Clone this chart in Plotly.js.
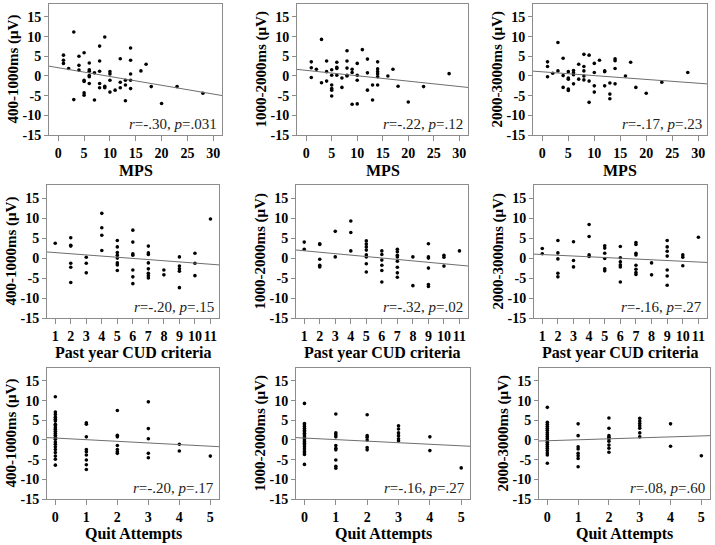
<!DOCTYPE html>
<html><head><meta charset="utf-8">
<script src="https://cdn.plot.ly/plotly-3.0.1.min.js"></script>
<style>html,body{margin:0;padding:0;background:#fff}</style>
</head><body><div id="chart" style="width:715px;height:545px"></div>
<script>
// ---------- data ----------
const xTitles = ["MPS", "Past year CUD criteria", "Quit Attempts"];
const yTitles = ["400-1000ms (\u03bcV)", "1000-2000ms (\u03bcV)", "2000-3000ms (\u03bcV)"];
const yTickVals = [-15, -10, -5, 0, 5, 10, 15];
const yTickText = ["-15", "-10", "-5", "0", "5", "10", "15"];
const mpsTicks = [0, 5, 10, 15, 20, 25, 30];
const cudTicks = [1, 2, 3, 4, 5, 6, 7, 8, 9, 10, 11];
const quitTicks = [0, 1, 2, 3, 4, 5];

// Row 1: MPS
const mps_400_x = [1,1,1,2,3,3,4,4,4,5,5,5,5,5,6,6,6,6,6,6,7,7,8,8,8,8,8,9,9,9,10,10,10,10,11,12,12,12,13,13,13,14,14,14,14,14,16,17,18,20,23,28];
const mps_400_y = [5.3,4.0,3.2,1.9,11.2,-6.0,5.0,2.7,1.5,5.9,-1.1,-1.4,-4.3,-4.9,3.3,1.6,1.2,0.1,-0.2,-1.9,0.8,-6.1,7.6,3.8,1.2,-1.9,-3.0,9.9,-2.6,-3.0,1.1,0.5,-1.1,-4.1,-3.6,4.4,-1.6,-3.0,-1.1,-2.3,-6.3,7.1,4.0,0.5,-1.1,-3.2,1.3,3.0,-2.7,-7.0,-2.7,-4.4];
const mps_1000_x = [1,1,1,2,3,3,4,4,4,5,5,5,5,5,5,6,6,6,6,7,7,8,8,8,8,8,9,9,9,10,10,10,10,11,12,12,12,13,13,14,14,14,14,14,14,16,17,18,20,23,28];
const mps_1000_y = [3.6,2.1,-0.4,1.7,9.3,-1.7,3.8,1.1,-1.3,1.6,0.2,-2.3,-3.2,-3.6,-5.1,3.5,2.2,1.9,0.2,-0.5,-2.9,6.4,3.8,2.0,0.2,0,1.7,0.9,-7.2,3.2,0.2,-1.1,-7.1,6.7,4.3,0.8,-3.6,-2.3,-6.1,3.6,1.8,1.1,0.5,-0.2,-2.3,0,1.7,-2.6,-6.6,-2.7,0.6];
const mps_2000_x = [1,1,1,2,3,3,4,4,4,5,5,5,5,5,6,6,6,6,7,7,8,8,8,8,8,9,9,9,10,10,10,10,11,12,12,12,13,13,13,14,14,14,14,16,17,18,20,23,28];
const mps_2000_y = [3.6,2.4,-0.2,0.7,8.5,1.3,4.5,0.1,-2.9,1.1,-0.5,-0.8,-3.3,-3.7,1.4,0.8,0.3,-2.0,3.0,-0.8,5.5,2.4,1.3,0,-1.0,5.3,-1.3,-6.7,3.2,0.9,-2.5,-4.1,4.0,1.3,1.1,-2.5,-1.8,-4.6,-5.8,4.4,3.9,1.9,-2.0,0,3.5,-2.9,-4.4,-1.6,0.9];

// Row 2: Past year CUD criteria
const cud_400_x = [1,2,2,2,2,2,2,3,3,3,4,4,4,4,5,5,5,5,5,5,5,5,6,6,6,6,6,6,6,7,7,7,7,7,7,7,7,8,8,9,9,9,9,9,10,10,10,11];
const cud_400_y = [3.7,5.1,3.2,3.0,-1.3,-2.3,-6.1,0.2,-1.3,-3.7,11.2,7.6,5.7,1.9,4.4,2.8,1.4,0.7,0,-1.2,-1.7,-3.1,7.0,4.0,1.1,0.7,-3.0,-4.7,-6.4,3.0,1.3,0.9,-1.2,-2.7,-3.8,-4.4,-5.0,-3.0,-4.2,0.3,-2.0,-2.7,-3.3,-7.4,1.2,-1.3,-4.4,9.8];
const cud_1000_x = [1,1,2,2,2,2,2,3,3,4,4,4,5,5,5,5,5,5,5,5,6,6,6,6,6,6,7,7,7,7,7,7,7,7,8,8,9,9,9,9,9,9,10,10,10,11];
const cud_1000_y = [4.0,2.2,3.6,3.4,-0.3,-1.8,-2.2,6.7,0.3,9.3,6.4,1.8,4.3,3.5,2.8,2.0,0.8,0.3,-1.4,-3.5,1.8,0.9,-0.5,-1.8,-3.1,-6.0,2.2,1.6,0.7,0.3,-0.8,-2.3,-3.7,-4.8,0.3,-6.9,3.6,0.3,0,-2.5,-6.6,-7.1,0.7,0.2,-2.0,1.8];
const cud_2000_x = [1,1,2,2,2,2,2,3,3,3,4,4,4,4,5,5,5,5,5,5,6,6,6,6,6,6,7,7,7,7,7,7,7,7,8,8,9,9,9,9,9,9,9,10,10,10,11];
const cud_2000_y = [2.4,1.1,4.4,1.3,-0.2,-3.8,-4.7,4.1,-0.6,-2.2,8.4,5.4,0.8,0.4,3.1,2.5,1.2,-0.1,-2.7,-3.2,2.9,0.1,-0.9,-1.7,-2.2,-6.0,3.9,3.4,1.2,0.8,-1.8,-2.8,-3.6,-4.1,-1.2,-4.2,4.4,2.8,1.7,0.5,-3.0,-4.5,-6.8,0.8,0.2,-1.9,5.2];

// Row 3: Quit attempts
const quit_400_x = [0,0,0,0,0,0,0,0,0,0,0,0,0,0,0,0,0,0,0,0,0,0,0,1,1,1,1,1,1,1,1,1,2,2,2,2,2,2,2,3,3,3,3,3,4,4,5];
const quit_400_y = [11.0,7.1,6.5,5.8,5.3,4.8,4.0,3.6,3.1,2.7,2.2,1.7,1.2,0.7,0.2,-0.5,-1.1,-1.7,-2.4,-3.2,-4.1,-4.9,-6.4,4.4,4.0,0.8,-2.4,-3.0,-3.8,-5.1,-6.3,-7.5,7.5,1.2,0.8,-1.4,-2.4,-3.0,-3.4,9.7,2.9,0.3,-3.4,-4.5,-1.1,-2.8,-4.1];
const quit_1000_x = [0,0,0,0,0,0,0,0,0,0,0,0,0,0,0,0,0,0,0,0,0,1,1,1,1,1,1,1,1,1,1,2,2,2,2,2,2,3,3,3,3,3,3,4,4,5];
const quit_1000_y = [9.3,4.2,3.8,3.4,3.0,2.5,2.1,1.7,1.3,0.8,0.4,0,-0.4,-0.8,-1.3,-1.7,-2.3,-2.9,-3.3,-3.7,-6.2,6.6,1.8,1.3,0.8,-1.4,-2.1,-2.5,-5.1,-6.7,-7.2,6.4,1.1,0.7,0,-1.9,-2.5,3.6,2.8,1.8,1.1,0.3,-0.2,0.8,-2.7,-7.1];
const quit_2000_x = [0,0,0,0,0,0,0,0,0,0,0,0,0,0,0,0,0,0,0,1,1,1,1,1,1,1,1,2,2,2,2,2,2,2,2,2,3,3,3,3,3,3,3,4,4,5];
const quit_2000_y = [8.3,4.5,4.0,3.5,3.0,2.5,1.9,1.4,0.9,0.4,-0.1,-0.6,-1.1,-1.6,-2.1,-2.7,-3.3,-3.8,-5.9,4.1,1.1,-1.7,-2.3,-3.4,-4.0,-4.7,-6.8,5.6,3.0,1.1,0.7,0.3,-0.3,-1.3,-2.1,-3.1,5.5,4.8,4.2,3.6,3.0,1.8,0.8,4.1,-1.6,-4.0];

// fitted regression lines and statistics
const fitIntercept = [2.1, 1.43, 1.06, 1.67, 2.19, 1.08, 0.49, 0.49, -0.19];
const fitSlope = [-0.223, -0.137, -0.0966, -0.292, -0.361, -0.188, -0.415, -0.394, 0.245];
const rText = ["-.30", "-.22", "-.17", "-.20", "-.32", "-.16", "-.20", "-.16", ".08"];
const pText = [".031", ".12", ".23", ".15", ".02", ".27", ".17", ".27", ".60"];

// ---------- build ----------
const panelX = [mps_400_x, mps_1000_x, mps_2000_x, cud_400_x, cud_1000_x, cud_2000_x, quit_400_x, quit_1000_x, quit_2000_x];
const panelY = [mps_400_y, mps_1000_y, mps_2000_y, cud_400_y, cud_1000_y, cud_2000_y, quit_400_y, quit_1000_y, quit_2000_y];
const rowTicks = [mpsTicks, cudTicks, quitTicks];
const rowRange = [[-1.8, 31.7], [0.47, 11.55], [-0.27, 5.28]];
const yRange = [-15, 18.3];
const W = 715, H = 545;
const colPx = [[[49,222],[297,468],[533,707]], [[47,219],[296,468],[534,707]], [[47,219],[296,470],[539,710]]];
const rowPx = [[4,135],[185,318],[368,499]];

const FONT = "Liberation Serif";
const data = [];
const layout = {
  width: W, height: H, autosize: false,
  margin: {l: 0, r: 0, t: 0, b: 0},
  paper_bgcolor: '#fff', plot_bgcolor: '#fff',
  showlegend: false,
  font: {family: FONT, color: '#000'},
  annotations: []
};

for (let i = 0; i < 9; i++) {
  const row = Math.floor(i / 3), col = i % 3;
  const sfx = i === 0 ? '' : String(i + 1);
  const xa = 'x' + sfx, ya = 'y' + sfx;
  const xr = rowRange[row];
  const cp = colPx[row][col], rp = rowPx[row];
  layout['xaxis' + sfx] = {
    domain: [cp[0] / W, cp[1] / W], anchor: ya, range: xr,
    showgrid: false, zeroline: false, showline: true, mirror: true,
    linecolor: '#8c8c8c', linewidth: 1,
    ticks: 'outside', ticklen: 5, tickcolor: '#8c8c8c', tickwidth: 1,
    tickvals: rowTicks[row], ticktext: rowTicks[row].map(String),
    tickangle: 0,
    tickfont: {family: FONT, size: 14, color: '#000', weight: 'bold'},
    ticklabelstandoff: 0, fixedrange: true
  };
  layout['yaxis' + sfx] = {
    domain: [1 - rp[1] / H, 1 - rp[0] / H], anchor: xa, range: yRange,
    showgrid: false, zeroline: false, showline: true, mirror: true,
    linecolor: '#8c8c8c', linewidth: 1,
    ticks: 'outside', ticklen: 4, tickcolor: '#8c8c8c', tickwidth: 1,
    tickvals: yTickVals, ticktext: yTickText,
    tickfont: {family: FONT, size: 14, color: '#000', weight: 'bold'},
    ticklabelstandoff: 0, fixedrange: true
  };
  data.push({
    type: 'scatter', mode: 'markers', x: panelX[i], y: panelY[i],
    xaxis: xa, yaxis: ya,
    marker: {color: '#000', size: 3.6}, hoverinfo: 'skip'
  });
  data.push({
    type: 'scatter', mode: 'lines',
    x: [xr[0], xr[1]],
    y: [fitIntercept[i] + fitSlope[i] * xr[0], fitIntercept[i] + fitSlope[i] * xr[1]],
    xaxis: xa, yaxis: ya,
    line: {color: '#6e6e6e', width: 1}, hoverinfo: 'skip'
  });
  layout.annotations.push({
    xref: xa + ' domain', yref: ya + ' domain', x: 1, y: 0,
    xanchor: 'right', yanchor: 'bottom', xshift: -3, yshift: 1,
    text: '<i>r</i>=' + rText[i] + ', <i>p</i>=' + pText[i],
    showarrow: false, font: {family: FONT, size: 15, color: '#222'}
  });
  layout.annotations.push({
    xref: xa + ' domain', yref: ya + ' domain', x: 0.5, y: 0,
    xanchor: 'center', yanchor: 'middle', yshift: -35,
    text: xTitles[row], showarrow: false,
    font: {family: FONT, size: 16, color: '#000', weight: 'bold'}
  });
  layout.annotations.push({
    xref: xa + ' domain', yref: ya + ' domain', x: 0, y: 0.5,
    xanchor: 'center', yanchor: 'middle', xshift: -36, textangle: -90,
    text: yTitles[col], showarrow: false,
    font: {family: FONT, size: 15, color: '#000', weight: 'bold'}
  });
}

Plotly.newPlot('chart', data, layout, {displayModeBar: false, staticPlot: true});
</script></body></html>
